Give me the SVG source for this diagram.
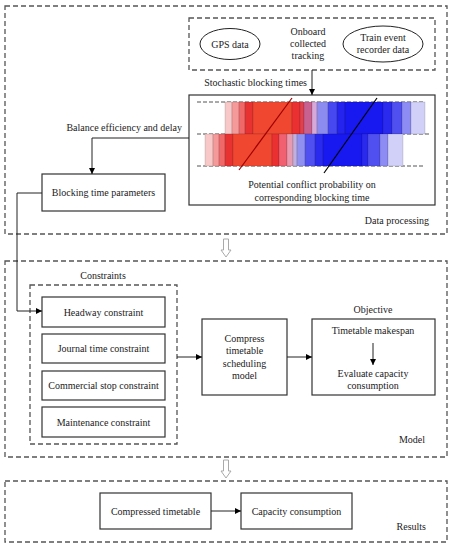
<svg xmlns="http://www.w3.org/2000/svg" width="453" height="550" viewBox="0 0 453 550">
<defs>
<marker id="ah" viewBox="0 0 10 10" refX="10" refY="5" markerWidth="6" markerHeight="6" orient="auto" markerUnits="userSpaceOnUse"><path d="M0,0 L10,5 L0,10 z" fill="#000"/></marker>
<style>
text{font-family:"Liberation Serif","Times New Roman",serif;font-size:10px;fill:#222}
.c{text-anchor:middle}
.r{text-anchor:end}
.box{fill:#fff;stroke:#333;stroke-width:1.2}
.dbox{fill:none;stroke:#555;stroke-width:1.3;stroke-dasharray:5,3}
.ln{fill:none;stroke:#222;stroke-width:1}
.dl{fill:none;stroke:#555;stroke-width:1;stroke-dasharray:4,2}
.hollow{fill:#fff;stroke:#aaa;stroke-width:1}
.seg rect{stroke:#000;stroke-opacity:0.25;stroke-width:0.5}
</style>
</defs>
<rect width="453" height="550" fill="#fff"/>

<!-- Containers -->
<g id="data-processing">
<rect class="dbox" x="5" y="6" width="442" height="228"/>
<text class="r" x="429" y="224">Data processing</text>
</g>
<g id="model">
<rect class="dbox" x="5" y="261" width="442" height="196"/>
<text class="r" x="425" y="443">Model</text>
</g>
<g id="results">
<rect class="dbox" x="5" y="481" width="442" height="61"/>
<text class="r" x="426" y="530">Results</text>
</g>

<g id="onboard-sources">
<rect class="dbox" x="189" y="18" width="246" height="52"/>
<text class="c" x="308" y="35">Onboard</text>
<text class="c" x="308" y="47">collected</text>
<text class="c" x="308" y="59">tracking</text>
</g>
<g id="gps-data">
<ellipse cx="230" cy="44" rx="30" ry="15.5" fill="#fff" stroke="#222" stroke-width="1"/>
<text class="c" x="230" y="47.5">GPS data</text>
</g>
<g id="train-event-recorder">
<ellipse cx="383" cy="44" rx="40" ry="18" fill="#fff" stroke="#222" stroke-width="1"/>
<text class="c" x="383" y="41">Train event</text>
<text class="c" x="383" y="53">recorder data</text>
</g>

<g id="blocking-chart">
<rect class="box" x="189" y="95" width="246" height="110"/>
<line class="dl" x1="197" y1="102" x2="425" y2="102"/>
<line class="dl" x1="197" y1="134" x2="430" y2="134"/>
<line class="dl" x1="197" y1="166" x2="423" y2="166"/>
<g class="seg">
<!-- top row -->
<rect x="225" y="102" width="7" height="32" fill="#f8c8c8"/>
<rect x="232" y="102" width="7" height="32" fill="#f59a9a"/>
<rect x="239" y="102" width="6" height="32" fill="#f06868"/>
<rect x="245" y="102" width="8" height="32" fill="#e83232"/>
<rect x="253" y="102" width="39" height="32" fill="#f04830"/>
<rect x="292" y="102" width="8" height="32" fill="#ea3030"/>
<rect x="300" y="102" width="4" height="32" fill="#e04050"/>
<rect x="304" y="102" width="8" height="32" fill="#c86090"/>
<rect x="312" y="102" width="5" height="32" fill="#d8a8d8"/>
<rect x="317" y="102" width="11" height="32" fill="#8c8cf0"/>
<rect x="328" y="102" width="9" height="32" fill="#4848f0"/>
<rect x="337" y="102" width="8" height="32" fill="#2424ee"/>
<rect x="345" y="102" width="38" height="32" fill="#1818f0"/>
<rect x="383" y="102" width="9" height="32" fill="#2a2aee"/>
<rect x="392" y="102" width="10" height="32" fill="#5050f0"/>
<rect x="402" y="102" width="9" height="32" fill="#8c8cf4"/>
<rect x="411" y="102" width="14" height="32" fill="#d0d0f8"/>
<!-- bottom row -->
<rect x="205" y="134" width="8" height="32" fill="#f8c8c8"/>
<rect x="213" y="134" width="6" height="32" fill="#f59a9a"/>
<rect x="219" y="134" width="6" height="32" fill="#f06868"/>
<rect x="225" y="134" width="8" height="32" fill="#e83232"/>
<rect x="233" y="134" width="39" height="32" fill="#f04830"/>
<rect x="272" y="134" width="7" height="32" fill="#ea3030"/>
<rect x="279" y="134" width="8" height="32" fill="#f06070"/>
<rect x="287" y="134" width="6" height="32" fill="#e89ab0"/>
<rect x="293" y="134" width="4" height="32" fill="#c0b0e0"/>
<rect x="297" y="134" width="8" height="32" fill="#9090f0"/>
<rect x="305" y="134" width="10" height="32" fill="#5050f0"/>
<rect x="315" y="134" width="8" height="32" fill="#2a2aee"/>
<rect x="323" y="134" width="39" height="32" fill="#1818f0"/>
<rect x="362" y="134" width="6" height="32" fill="#2a2aee"/>
<rect x="368" y="134" width="12" height="32" fill="#5050f0"/>
<rect x="380" y="134" width="8" height="32" fill="#8c8cf4"/>
<rect x="388" y="134" width="15" height="32" fill="#d0d0f8"/>
</g>
<line x1="292" y1="98" x2="239" y2="170" stroke="#a00000" stroke-width="1.2"/>
<line x1="377" y1="98" x2="324" y2="173" stroke="#000" stroke-width="1.2"/>
<text class="c" x="312" y="188">Potential conflict probability on</text>
<text class="c" x="312" y="201">corresponding blocking time</text>
</g>

<g id="blocking-time-parameters">
<rect class="box" x="42" y="174" width="123" height="37"/>
<text class="c" x="103.5" y="196">Blocking time parameters</text>
</g>

<g id="constraints">
<rect class="dbox" x="30" y="285" width="147" height="159"/>
<text class="c" x="103" y="278.5">Constraints</text>
</g>
<g id="headway-constraint">
<rect class="box" x="42" y="297" width="123" height="30"/>
<text class="c" x="103.5" y="315.5">Headway constraint</text>
</g>
<g id="journal-time-constraint">
<rect class="box" x="42" y="334" width="123" height="29"/>
<text class="c" x="103.5" y="352">Journal time constraint</text>
</g>
<g id="commercial-stop-constraint">
<rect class="box" x="42" y="371" width="123" height="29"/>
<text class="c" x="103.5" y="389">Commercial stop constraint</text>
</g>
<g id="maintenance-constraint">
<rect class="box" x="42" y="407" width="123" height="30"/>
<text class="c" x="103.5" y="425.5">Maintenance constraint</text>
</g>

<g id="compress-model">
<rect class="box" x="202" y="319" width="85" height="76"/>
<text class="c" x="244.5" y="341.5">Compress</text>
<text class="c" x="244.5" y="354">timetable</text>
<text class="c" x="244.5" y="367">scheduling</text>
<text class="c" x="244.5" y="379">model</text>
</g>

<g id="objective">
<text class="c" x="373" y="312.5">Objective</text>
<rect class="box" x="312" y="319" width="123" height="76"/>
<text class="c" x="373" y="333.5">Timetable makespan</text>
<text class="c" x="373" y="376.5">Evaluate capacity</text>
<text class="c" x="373" y="388.5">consumption</text>
</g>

<g id="compressed-timetable">
<rect class="box" x="100" y="493" width="111" height="36"/>
<text class="c" x="155.5" y="514.5">Compressed timetable</text>
</g>
<g id="capacity-consumption">
<rect class="box" x="241" y="493" width="111" height="36"/>
<text class="c" x="296.5" y="514.5">Capacity consumption</text>
</g>

<g id="connectors">
<line class="ln" x1="312" y1="70" x2="312" y2="95" marker-end="url(#ah)"/>
<text class="r" x="307" y="85.5">Stochastic blocking times</text>
<polyline class="ln" points="189,138 92,138 92,174" marker-end="url(#ah)"/>
<text class="r" x="182" y="131">Balance efficiency and delay</text>
<polyline class="ln" points="42,193 17,193 17,311 42,311" marker-end="url(#ah)"/>
<line class="ln" x1="177" y1="357" x2="202" y2="357" marker-end="url(#ah)"/>
<line class="ln" x1="287" y1="357" x2="312" y2="357" marker-end="url(#ah)"/>
<line class="ln" x1="373" y1="343" x2="373" y2="365" marker-end="url(#ah)"/>
<line class="ln" x1="211" y1="511" x2="241" y2="511" marker-end="url(#ah)"/>
<path class="hollow" d="M223.5,239 L228.5,239 L228.5,250 L231,250 L226,257 L221,250 L223.5,250 z"/>
<path class="hollow" d="M223.5,460 L228.5,460 L228.5,471 L231,471 L226,478 L221,471 L223.5,471 z"/>
</g>
</svg>
